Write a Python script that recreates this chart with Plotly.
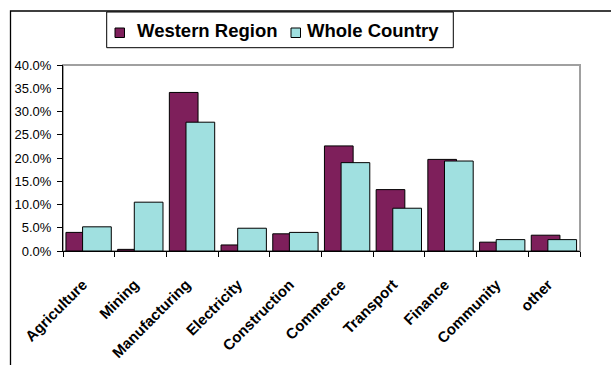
import plotly.graph_objects as go

categories = ["Agriculture", "Mining", "Manufacturing", "Electricity", "Construction",
              "Commerce", "Transport", "Finance", "Community", "other"]
series_names = ["Western Region", "Whole Country"]
western = [0.040, 0.0035, 0.341, 0.013, 0.037, 0.226, 0.132, 0.197, 0.019, 0.034]
whole = [0.052, 0.105, 0.277, 0.049, 0.040, 0.190, 0.092, 0.1935, 0.0245, 0.0245]
y_ticks = [0.0, 0.05, 0.10, 0.15, 0.20, 0.25, 0.30, 0.35, 0.40]

colors = ["#7E1F5B", "#A0E0E0"]
FONT = "Liberation Sans"

W, H = 611, 365
L, R, T, B = 63, 31, 65, 114
PW, PH = W - L - R, H - T - B


def px(x):
    return (x - L) / PW


def py(y):
    return (H - B - y) / PH


fig = go.Figure()
bar_w = 0.555
offsets = [-0.443, -0.121]
for name, vals, col, off in zip(series_names, [western, whole], colors, offsets):
    fig.add_trace(go.Bar(
        x=categories, y=vals, name=name, width=bar_w, offset=off,
        marker=dict(color=col, line=dict(color="black", width=1)),
        showlegend=False,
    ))

shapes = [
    # outer chart border
    dict(type="rect", xref="paper", yref="paper", x0=px(10.5), x1=px(640),
         y0=py(400), y1=py(11), line=dict(color="black", width=1.3), layer="below"),
    # plot area border
    dict(type="rect", xref="paper", yref="paper", x0=0, x1=1, y0=0, y1=1,
         line=dict(color="#A0A0A0", width=2), layer="below"),
    # legend box
    dict(type="rect", xref="paper", yref="paper", x0=px(106.7), x1=px(453.3),
         y0=py(47.7), y1=py(12), line=dict(color="black", width=1),
         fillcolor="white", layer="above"),
]
annotations = []
legend_marker_x = [115, 291]
legend_text_x = [135.7, 305.7]
for name, col, mx, tx in zip(series_names, colors, legend_marker_x, legend_text_x):
    shapes.append(dict(type="rect", xref="paper", yref="paper", x0=px(mx), x1=px(mx + 9.5),
                       y0=py(37.5), y1=py(28), fillcolor=col,
                       line=dict(color="black", width=1), layer="above"))
    annotations.append(dict(xref="paper", yref="paper", x=px(tx), y=py(30.5),
                            xanchor="left", yanchor="middle", showarrow=False,
                            text=name, xshift=-1,
                            font=dict(family=FONT, size=18.5, color="black", weight="bold")))

fig.update_layout(
    width=W, height=H,
    margin=dict(l=L, r=R, t=T, b=B, pad=0, autoexpand=False),
    paper_bgcolor="white", plot_bgcolor="white",
    barmode="overlay",
    shapes=shapes, annotations=annotations,
    xaxis=dict(
        type="category", range=[-0.5, 9.5], tickson="boundaries",
        ticks="outside", ticklen=5, tickcolor="black", tickwidth=1,
        showline=True, linecolor="black", linewidth=1, showgrid=False,
        tickangle=-45, ticklabelstandoff=18, ticklabelshift=-6,
        tickfont=dict(family=FONT, size=15, color="black", weight="bold"),
        fixedrange=True, automargin=False,
    ),
    xaxis2=dict(
        overlaying="x", anchor="y", side="bottom", type="linear",
        range=[-0.5, 9.5], tickvals=[i - 0.5 for i in range(11)],
        ticks="inside", ticklen=5, tickcolor="black", tickwidth=1,
        showticklabels=False, showline=False, showgrid=False, zeroline=False,
        automargin=False,
    ),
    yaxis=dict(
        range=[0, 0.4], tickvals=y_ticks, tickformat=".1%",
        ticks="outside", ticklen=5, tickcolor="black", tickwidth=1,
        showline=True, linecolor="black", linewidth=1, showgrid=False, zeroline=False,
        ticklabelstandoff=3,
        tickfont=dict(family=FONT, size=13, color="black"),
        fixedrange=True, automargin=False,
    ),
)

fig.write_html("out.html", config={"displayModeBar": False})
